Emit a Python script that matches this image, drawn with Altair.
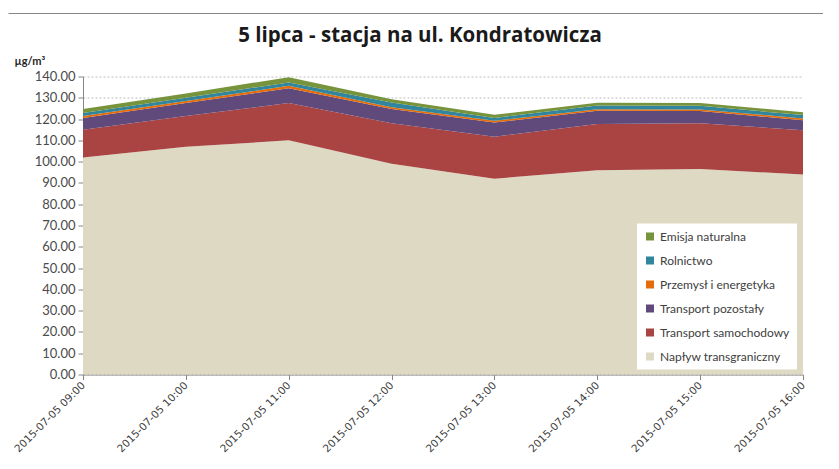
import altair as alt
import pandas as pd

times = ["2015-07-05 09:00", "2015-07-05 10:00", "2015-07-05 11:00", "2015-07-05 12:00",
         "2015-07-05 13:00", "2015-07-05 14:00", "2015-07-05 15:00", "2015-07-05 16:00"]

series_names = ["Napływ transgraniczny", "Transport samochodowy", "Transport pozostały",
                "Przemysł i energetyka", "Rolnictwo", "Emisja naturalna"]
naplyw = [102.0, 107.0, 110.0, 99.0, 92.0, 96.0, 96.5, 94.0]
samochodowy = [13.0, 14.5, 17.5, 19.0, 19.7, 21.7, 21.5, 20.8]
pozostaly = [5.5, 6.0, 7.0, 6.7, 6.7, 6.2, 5.8, 4.7]
przemysl = [0.9, 1.0, 1.1, 0.8, 0.8, 0.7, 0.7, 0.8]
rolnictwo = [1.5, 1.5, 1.6, 2.3, 1.3, 1.8, 1.7, 1.6]
emisja = [1.8, 2.0, 2.5, 1.5, 1.5, 1.3, 1.4, 1.3]
series_values = [naplyw, samochodowy, pozostaly, przemysl, rolnictwo, emisja]
series_colors = ["#DDD9C3", "#A94442", "#604A7B", "#E46C0A", "#31859C", "#77933C"]

y_ticks = list(range(0, 150, 10))
chart_title = "5 lipca - stacja na ul. Kondratowicza"
unit_label = "µg/m³"

rows = []
for k, (name, vals) in enumerate(zip(series_names, series_values)):
    for t, v in zip(times, vals):
        rows.append({"time": t, "series": name, "value": v, "k": k})
df = pd.DataFrame(rows)

legend_domain = list(reversed(series_names))
legend_range = list(reversed(series_colors))

border_top = alt.Chart(alt.Data(values=[{}])).mark_rule(
    stroke="#868686", strokeWidth=1
).encode(
    x=alt.value(-74.5), x2=alt.value(740), y=alt.value(-63)
)

areas = alt.Chart(df).mark_area(opacity=1).encode(
    x=alt.X("time:O", sort=times,
            scale=alt.Scale(type="point", padding=0),
            axis=alt.Axis(title=None, labelAngle=-45, labelAlign="right",
                          labelBaseline="middle", labelPadding=4,
                          labelFont="DejaVu Sans", labelFontSize=10.5,
                          labelColor="#404040", grid=False,
                          domainColor="#868686", tickColor="#868686",
                          tickSize=5)),
    y=alt.Y("value:Q", stack="zero",
            scale=alt.Scale(domain=[0, 140], nice=False),
            axis=alt.Axis(values=y_ticks, format=".2f", title=unit_label,
                          titleAngle=0, titleX=-69, titleY=-12,
                          titleAlign="left", titleBaseline="alphabetic",
                          titleFont="Lato", titleFontSize=11,
                          titleFontWeight="bold", titleColor="#262626",
                          labelFont="Lato", labelFontSize=13,
                          labelColor="#4a4a4a", labelPadding=3,
                          grid=True, gridDash=[2, 2], gridColor="#BFBFBF",
                          domainColor="#868686", tickColor="#868686",
                          tickSize=5)),
    color=alt.Color("series:N",
                    scale=alt.Scale(domain=legend_domain, range=legend_range),
                    legend=alt.Legend(title=None, orient="none",
                                      legendX=554, legendY=147,
                                      fillColor="white", padding=7,
                                      symbolType="square", symbolSize=64,
                                      symbolStrokeWidth=0,
                                      labelFont="Lato", labelFontSize=12,
                                      labelColor="#404040", rowPadding=12,
                                      labelLimit=250)),
    order=alt.Order("k:Q", sort="ascending"),
)

title = alt.Chart(alt.Data(values=[{"t": chart_title}])).mark_text(
    font="Open Sans", fontSize=20.5, fontWeight="bold", color="#1a1a1a",
    align="center", baseline="alphabetic"
).encode(
    x=alt.value(337), y=alt.value(-35), text="t:N"
)

chart = alt.layer(border_top, areas, title).properties(
    width=720, height=298,
    padding={"left": 75, "top": 68.5, "right": 28, "bottom": 86.5},
    autosize=alt.AutoSizeParams(type="none"),
).configure_view(stroke=None)

chart.save("out.html", embed_options={"renderer": "svg", "actions": False})
